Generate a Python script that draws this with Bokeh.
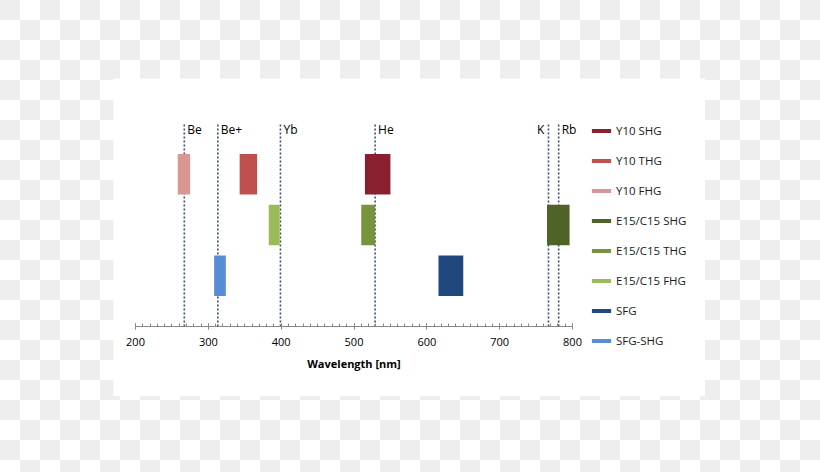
from bokeh.plotting import figure
from bokeh.models import (ColumnDataSource, Range1d, SingleIntervalTicker, Legend,
                          LegendItem, Spacer)
from bokeh.layouts import column, row
from bokeh.core.properties import value
from bokeh.embed import file_html
from bokeh.resources import INLINE

# ---- data -------------------------------------------------------------
series_names = ["Y10 SHG", "Y10 THG", "Y10 FHG",
                "E15/C15 SHG", "E15/C15 THG", "E15/C15 FHG",
                "SFG", "SFG-SHG"]
series_start = [515, 343, 258, 765, 510, 383, 616, 308]   # nm
series_end   = [550, 367, 275, 796, 529, 398, 650, 324]   # nm
series_row   = [3, 3, 3, 2, 2, 2, 1, 1]
series_colors = ["#88202f", "#c0504d", "#d99694",
                 "#4f6228", "#77933c", "#9bbb59",
                 "#1f497d", "#558ed5"]

line_names = ["Be", "Be+", "Yb", "He", "K", "Rb"]
line_wl    = [267, 313, 399, 529, 767, 781]   # nm
left_labelled = ["K"]

tick_values = [200, 300, 400, 500, 600, 700, 800]

# ---- figure -----------------------------------------------------------
BAR_H = 0.8
TOP = 4
PX_PER_NM = 437 / 600.0
PX_PER_ROW = 50.75
FRAME_W, FRAME_H = 592, 318
x0 = tick_values[0] - 22 / PX_PER_NM
x1 = x0 + FRAME_W / PX_PER_NM
y1 = TOP + 45 / PX_PER_ROW
y0 = y1 - FRAME_H / PX_PER_ROW

p = figure(frame_width=FRAME_W, frame_height=FRAME_H,
           output_backend="svg", toolbar_location=None,
           x_range=Range1d(x0, x1), y_range=Range1d(y0, y1),
           y_axis_location=None,
           min_border_left=0, min_border_right=0,
           min_border_top=0, min_border_bottom=0)
p.outline_line_color = None
p.background_fill_color = "white"
p.border_fill_alpha = 0
p.xgrid.visible = False
p.ygrid.visible = False

ax = p.xaxis[0]
ax.fixed_location = 0
ax.ticker = SingleIntervalTicker(interval=100, num_minor_ticks=10)
ax.bounds = (tick_values[0], tick_values[-1])
ax.axis_line_color = "#868686"
ax.major_tick_line_color = "#868686"
ax.minor_tick_line_color = "#868686"
ax.major_tick_in = 3
ax.major_tick_out = 3
ax.minor_tick_in = 3
ax.minor_tick_out = 0
ax.major_label_text_font = "Open Sans"
ax.major_label_text_font_size = "11px"
ax.major_label_text_color = "#000000"
ax.major_label_standoff = 8
ax.axis_label = "Wavelength [nm]"
ax.axis_label_text_font = "Open Sans"
ax.axis_label_text_font_size = "11px"
ax.axis_label_text_font_style = "bold"
ax.axis_label_text_color = "#000000"
ax.axis_label_standoff = 7

# dotted reference lines
lsrc = ColumnDataSource(dict(
    x=line_wl, name=line_names,
    y0=[0] * len(line_wl), y1=[TOP] * len(line_wl),
    align=["right" if n in left_labelled else "left" for n in line_names],
    xoff=[-4 if n in left_labelled else 3 for n in line_names],
))
p.segment(x0="x", y0="y0", x1="x", y1="y1", source=lsrc,
          line_color="#3a5274", line_width=1.6, line_dash="2 2")
p.text(x="x", y="y1", text="name", source=lsrc, text_align="align",
       x_offset="xoff", y_offset=6, text_baseline="middle",
       text_font=value("Open Sans"), text_font_size="12px", text_color="#000000")

# bars
items = []
for name, s, e, r, c in zip(series_names, series_start, series_end,
                            series_row, series_colors):
    src = ColumnDataSource(dict(left=[s], right=[e],
                                bottom=[r - BAR_H / 2], top=[r + BAR_H / 2]))
    rend = p.quad(left="left", right="right", bottom="bottom", top="top",
                  source=src, fill_color=c, line_color=None)
    items.append(LegendItem(label=name, renderers=[rend]))

# legend inside the (wide) frame, offset in px from the frame's bottom-left
legend = Legend(items=items, location=(476, 48), orientation="vertical",
                glyph_width=24, glyph_height=5, label_height=16, spacing=14,
                label_standoff=3, padding=0, margin=0,
                border_line_color=None, background_fill_alpha=0,
                label_text_font="Open Sans", label_text_font_size="11.5px",
                label_text_color="#1a1a1a")
p.add_layout(legend, "center")

page = column(Spacer(height=78), row(Spacer(width=113), p),
              width=820, height=472,
              styles={"background": "repeating-conic-gradient(#ffffff 0% 25%, #eeeeee 0% 50%) 0 0 / 40px 40px"})

open("out.html", "w").write(file_html(page, INLINE))
